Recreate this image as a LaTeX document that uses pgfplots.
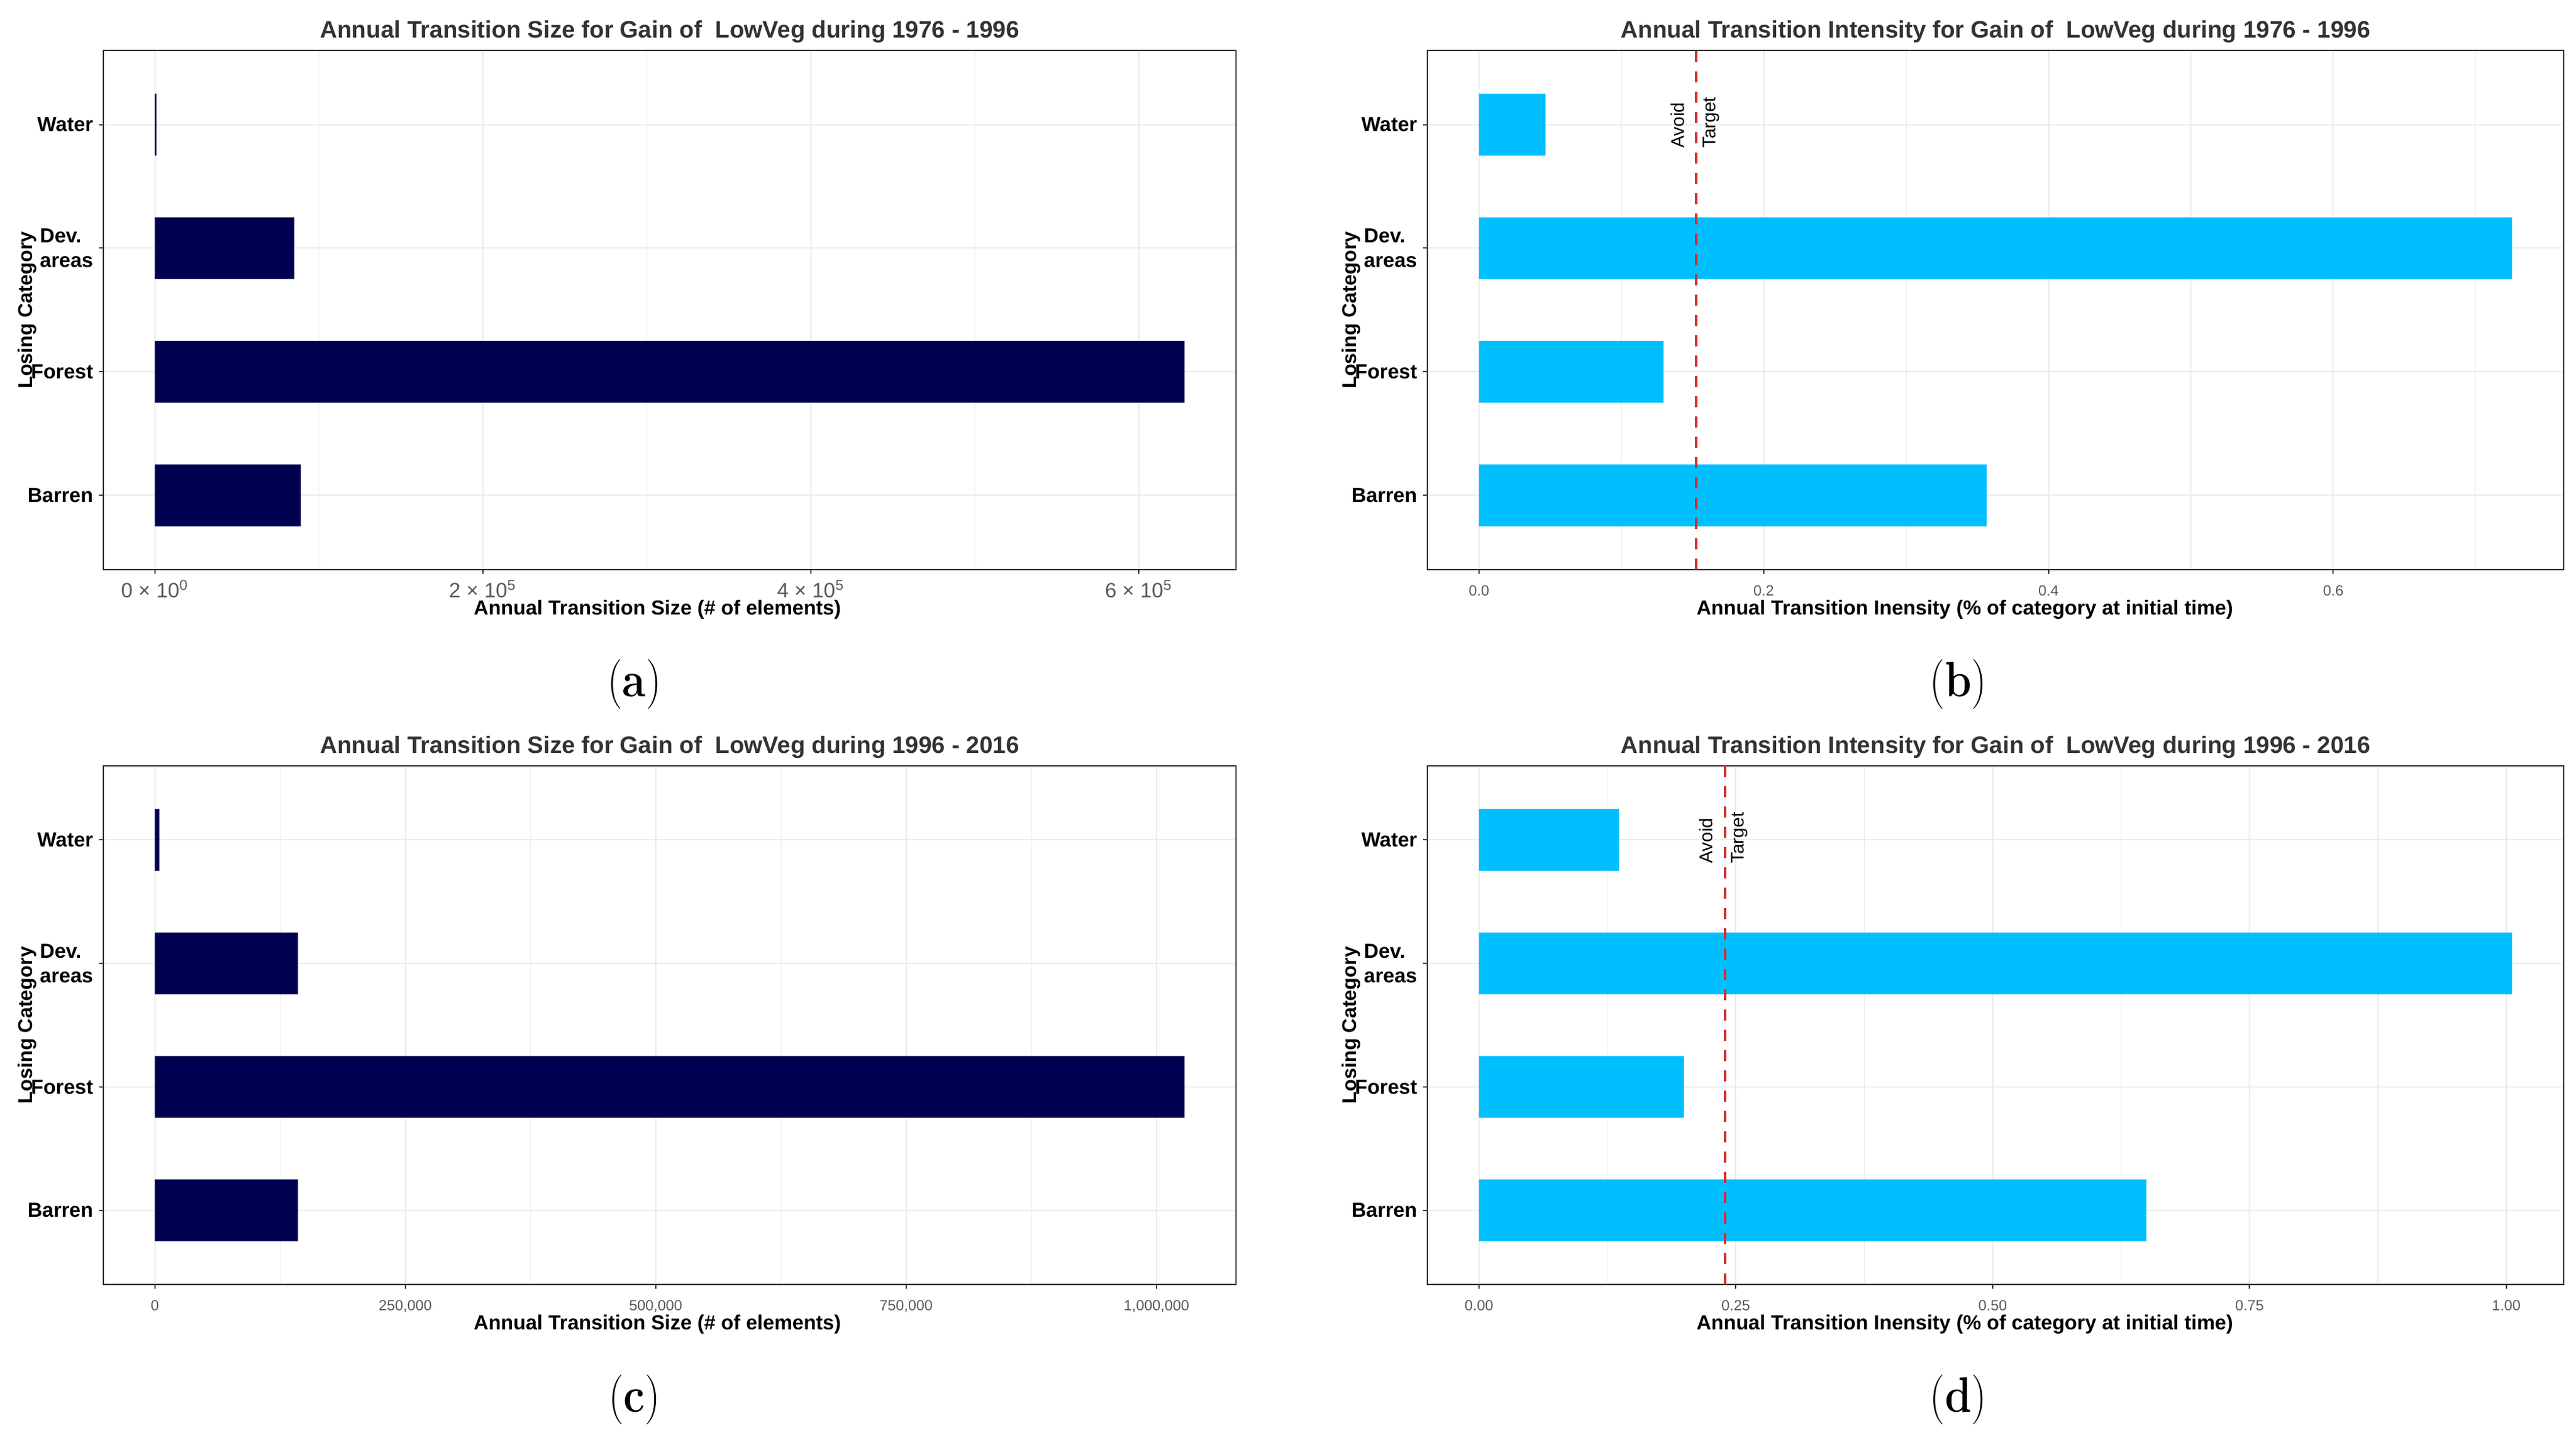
\documentclass[border=0pt]{standalone}
\usepackage{fontspec}
\setsansfont{Liberation Sans}
\usepackage{pgfplots}
\pgfplotsset{compat=1.18}

\definecolor{navybar}{HTML}{000050}
\definecolor{skybar}{HTML}{00BFFF}
\definecolor{avoidred}{HTML}{D42A2A}
\definecolor{gridgray}{HTML}{EBEBEB}
\definecolor{framegray}{HTML}{333333}

\newcommand{\titlefont}{\sffamily\bfseries\fontsize{11}{13}\selectfont}
\newcommand{\labfont}{\sffamily\bfseries\fontsize{9.4}{11.4}\selectfont}
\newcommand{\ylabfont}{\sffamily\bfseries\fontsize{9.2}{11}\selectfont}
\newcommand{\tickfont}{\sffamily\fontsize{6.8}{8.2}\selectfont}
\newcommand{\scifont}{\sffamily\fontsize{9.6}{11.5}\selectfont}
\newcommand{\notefont}{\sffamily\fontsize{8.5}{10}\selectfont}
\newcommand{\sublabel}[1]{\scalebox{0.86}[1]{\fontsize{23}{27}\selectfont({\bfseries #1})}}

% shared look of the four panels (ggplot theme_bw)
\pgfplotsset{
  lcc/.style={
    scale only axis,
    anchor=south west,
    ymin=0.4, ymax=4.6,
    ytick={1,2,3,4},
    yticklabels={Barren,Forest,{Dev.\\areas},Water},
    axis line style={framegray, line width=0.25mm},
    tick style={framegray, line width=0.2mm},
    major tick length=0.7mm,
    minor tick length=0pt,
    tick align=outside,
    xtick pos=left, ytick pos=left,
    xmajorgrids, xminorgrids, ymajorgrids,
    major grid style={gridgray, line width=0.2mm},
    minor grid style={gridgray, line width=0.12mm},
    scaled ticks=false,
    bar width=0.5,
    every axis title shift=0pt,
    title style={font=\titlefont, text=black!80, at={(0.5,1)}, anchor=base, yshift=2mm},
    xlabel style={font=\labfont, at={(axis description cs:0.5,0)}, anchor=base, yshift=-7.4mm},
    ylabel style={font=\ylabfont, at={(axis description cs:0,0.5)}, anchor=south, inner sep=0pt, yshift=10.8mm},
    yticklabel style={font=\labfont, align=left, anchor=east, inner sep=0pt, xshift=-0.9mm},
    xticklabel style={font=\tickfont, text=black!65, anchor=base, inner sep=0pt, yshift=-3.6mm},
    ylabel={Losing Category},
  },
  sizecol/.style={width=184.1mm, xlabel style={xshift=-2mm}, xlabel={Annual Transition Size (\# of elements)}},
  intcol/.style={width=184.7mm, xlabel style={xshift=-5mm}, xlabel={Annual Transition Inensity (\% of category at initial time)}},
}
% rotated notes beside the dashed line; yshift acts sideways after rotate=90
\tikzset{
  avoid/.style={font=\notefont, rotate=90, anchor=base west, inner sep=0pt, yshift=2mm},
  target/.style={font=\notefont, rotate=90, anchor=north west, inner sep=0pt, yshift=-1mm},
}

\begin{document}
\begin{tikzpicture}
\path[use as bounding box] (0,0) rectangle (418.7mm,233.6mm);

% (a) size 1976-1996
\begin{axis}[lcc, sizecol, at={(16.8mm,141.0mm)}, height=84.4mm,
  xmin=-31400, xmax=659300,
  xtick={0,200000,400000,600000}, minor xtick={100000,300000,500000},
  xticklabels={0 × 10\textsuperscript{0}, 2 × 10\textsuperscript{5}, 4 × 10\textsuperscript{5}, 6 × 10\textsuperscript{5}},
  xticklabel style={font=\scifont, yshift=-0.3mm},
  title={Annual Transition Size for Gain of\ \ LowVeg during 1976 - 1996}]
\addplot[xbar, draw=none, fill=navybar] coordinates {(89000,1) (627900,2) (85000,3) (1000,4)};
\end{axis}

% (b) intensity 1976-1996
\begin{axis}[lcc, intcol, at={(232.0mm,141.0mm)}, height=84.4mm,
  xmin=-0.03628, xmax=0.76188,
  xtick={0,0.2,0.4,0.6}, minor xtick={0.1,0.3,0.5,0.7},
  xticklabels={0.0,0.2,0.4,0.6},
  title={Annual Transition Intensity for Gain of\ \ LowVeg during 1976 - 1996}]
\addplot[xbar, draw=none, fill=skybar] coordinates {(0.3565,1) (0.1296,2) (0.7256,3) (0.0467,4)};
\addplot[avoidred, line width=0.4mm, dash pattern=on 1.8mm off 1.5mm, no marks] coordinates {(0.1526,0.4) (0.1526,4.6)};
\node[avoid] at (axis cs:0.1526,3.806) {Avoid};
\node[target] at (axis cs:0.1526,3.806) {Target};
\end{axis}

% (c) size 1996-2016
\begin{axis}[lcc, sizecol, at={(16.8mm,24.8mm)}, height=84.3mm,
  xmin=-51400, xmax=1079400,
  xtick={0,250000,500000,750000,1000000}, minor xtick={125000,375000,625000,875000},
  xticklabels={0,{250,000},{500,000},{750,000},{1,000,000}},
  title={Annual Transition Size for Gain of\ \ LowVeg during 1996 - 2016}]
\addplot[xbar, draw=none, fill=navybar] coordinates {(143000,1) (1028000,2) (143000,3) (4500,4)};
\end{axis}

% (d) intensity 1996-2016
\begin{axis}[lcc, intcol, at={(232.0mm,24.8mm)}, height=84.3mm,
  xmin=-0.05028, xmax=1.05588,
  xtick={0,0.25,0.5,0.75,1}, minor xtick={0.125,0.375,0.625,0.875},
  xticklabels={0.00,0.25,0.50,0.75,1.00},
  title={Annual Transition Intensity for Gain of\ \ LowVeg during 1996 - 2016}]
\addplot[xbar, draw=none, fill=skybar] coordinates {(0.6496,1) (0.1995,2) (1.0056,3) (0.1364,4)};
\addplot[avoidred, line width=0.4mm, dash pattern=on 1.8mm off 1.5mm, no marks] coordinates {(0.2394,0.4) (0.2394,4.6)};
\node[avoid] at (axis cs:0.2394,3.806) {Avoid};
\node[target] at (axis cs:0.2394,3.806) {Target};
\end{axis}

% sub-figure letters
\node[inner sep=0pt] at (103.1mm,122.4mm) {\sublabel{a}};
\node[inner sep=0pt] at (318.3mm,122.4mm) {\sublabel{b}};
\node[inner sep=0pt] at (103.1mm,6.1mm) {\sublabel{c}};
\node[inner sep=0pt] at (318.3mm,6.1mm) {\sublabel{d}};
\end{tikzpicture}
\end{document}
